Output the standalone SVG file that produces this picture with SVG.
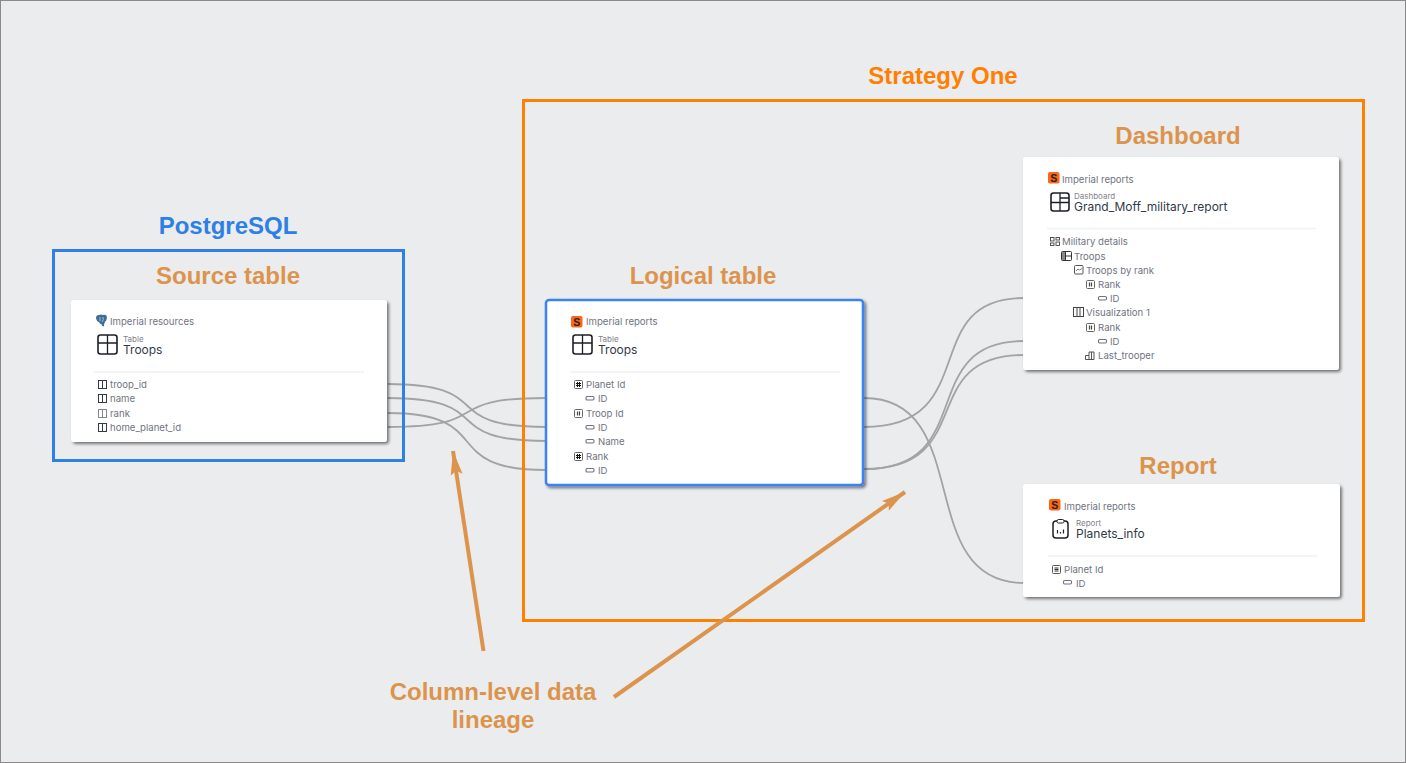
<svg xmlns="http://www.w3.org/2000/svg" width="1406" height="763" viewBox="0 0 1406 763">
<defs>
<filter id="sh" x="-5%" y="-5%" width="112%" height="115%"><feDropShadow dx="2" dy="2" stdDeviation="1.5" flood-color="#000" flood-opacity="0.5"/></filter>
<marker id="ah" markerUnits="userSpaceOnUse" markerWidth="26" markerHeight="16" refX="24" refY="8" orient="auto"><path d="M0 2L4 8L0 14L24 8Z" fill="#dc944c"/></marker>
<g id="tbl"><rect x="1" y="1" width="19" height="19" rx="2.500" fill="#fff" stroke="#1c1f26" stroke-width="1.600"/><path d="M1 9H20M10.500 1V20" stroke="#1c1f26" stroke-width="1.300" fill="none"/></g>
<g id="col"><rect x="0.500" y="0.500" width="8" height="8" fill="#fff" stroke="#333a44"/><path d="M4.500 0.500V8.500" stroke="#333a44"/></g>
<g id="attr"><rect x="0.500" y="0.500" width="8" height="8" rx="1" fill="#fff" stroke="#666"/><path d="M3.500 2V7M5.500 2V7M2 3.500H7M2 5.500H7" stroke="#111" stroke-width="1"/></g>
<g id="attr2"><rect x="0.500" y="0.500" width="8" height="8" rx="1" fill="#fff" stroke="#666"/><path d="M3.500 2.500V6.500M5.500 2.500V6.500" stroke="#444" stroke-width="1.200"/></g>
<g id="form"><rect x="0.500" y="0.500" width="8" height="3.500" rx="1.200" fill="#fff" stroke="#6d7280" stroke-width="1.100"/></g>
<g id="s"><rect width="11.500" height="11.500" rx="2" fill="#ff6512"/><text x="5.700" y="9.500" text-anchor="middle" class="sg">S</text></g>
</defs>
<style>
text{font-family:Inter,"Liberation Sans",sans-serif}
.t{font-size:9.600px;fill:#6f7480}
.n{font-size:12px;fill:#323a4a}
.k{font-size:8px;fill:#7f838c}
.h{font-family:"Liberation Sans",Arial,sans-serif;font-weight:700;font-size:24px;fill:#dc944c;text-anchor:middle}
.sg{font-family:"Liberation Sans",sans-serif;font-weight:700;font-size:10.500px;fill:#222}
.card{fill:#fff;filter:url(#sh)}
.div{stroke:#f0f1f3;stroke-width:1.500}
.c{fill:none;stroke:#a3a3a3;stroke-width:1.800}
</style>
<rect x="0.500" y="0.500" width="1405" height="762" fill="#ebecee" stroke="#8a8a8a"/>

<g id="connectors">
<path class="c" d="M388 384C498 384 436 427 546 427"/>
<path class="c" d="M388 398C498 398 436 441 546 441"/>
<path class="c" d="M388 413C498 413 436 470 546 470"/>
<path class="c" d="M388 427C498 427 436 398 546 398"/>
<path class="c" d="M864 398C976 398 912 583 1024 583"/>
<path class="c" d="M864 427C984 427 916 298 1024 298"/>
<path class="c" d="M864 469C980 469 914 341 1024 341"/>
<path class="c" d="M864 469C980 469 914 355 1024 355"/>
</g>

<g id="strategy-one">
<rect x="523.500" y="100.500" width="840" height="520" fill="none" stroke="#ff8000" stroke-width="3"/>
<text x="943" y="84" class="h" style="fill:#ff8000">Strategy One</text>
</g>
<g id="postgresql">
<rect x="53.500" y="250.500" width="350" height="210" fill="none" stroke="#2f80e4" stroke-width="3"/>
<text x="228" y="234" class="h" style="fill:#2f80e4">PostgreSQL</text>
</g>

<g id="source-table">
<text x="228" y="284" class="h">Source table</text>
<rect class="card" x="71" y="300" width="316" height="142" rx="3"/>
<path d="M96 318q0-3 3-3q2-1 3.500 0q4-1 4.500 2q0 3-2 5q-1 1-1 4q-2 1-2.500-2q-2 0-2-1.500q-3-1-3.500-4.500z" fill="#3e6e96"/>
<path d="M100 317v4M103 317q1 3-1 5" stroke="#cfe0ec" stroke-width="0.700" fill="none"/>
<text x="110" y="325" class="t">Imperial resources</text>
<use href="#tbl" x="97" y="334"/>
<text x="123" y="342" class="k">Table</text>
<text x="123" y="354" class="n">Troops</text>
<path class="div" d="M94 372H364"/>
<use href="#col" x="98" y="380"/><text x="110" y="388" class="t">troop_id</text>
<use href="#col" x="98" y="394"/><text x="110" y="402" class="t">name</text>
<use href="#col" x="98" y="409" opacity="0.6"/><text x="110" y="417" class="t">rank</text>
<use href="#col" x="98" y="423"/><text x="110" y="431" class="t">home_planet_id</text>
</g>

<g id="logical-table">
<text x="703" y="284" class="h">Logical table</text>
<rect x="546" y="300" width="317" height="185" rx="3" fill="#fff" stroke="#3b82f6" stroke-width="2.500" filter="url(#sh)"/>
<use href="#s" x="571" y="316"/>
<text x="586" y="325" class="t">Imperial reports</text>
<use href="#tbl" x="572" y="334"/>
<text x="598" y="342" class="k">Table</text>
<text x="598" y="354" class="n">Troops</text>
<path class="div" d="M570 372H840"/>
<use href="#attr" x="574" y="380"/><text x="586" y="388" class="t">Planet Id</text>
<use href="#form" x="585.500" y="396"/><text x="598" y="402" class="t">ID</text>
<use href="#attr2" x="574" y="409"/><text x="586" y="417" class="t">Troop Id</text>
<use href="#form" x="585.500" y="425"/><text x="598" y="431" class="t">ID</text>
<use href="#form" x="585.500" y="439"/><text x="598" y="445" class="t">Name</text>
<use href="#attr" x="574" y="452"/><text x="586" y="460" class="t">Rank</text>
<use href="#form" x="585.500" y="468"/><text x="598" y="474" class="t">ID</text>
</g>

<g id="dashboard">
<text x="1178" y="144" class="h">Dashboard</text>
<rect class="card" x="1023" y="157" width="316" height="213" rx="3"/>
<use href="#s" x="1048" y="172"/>
<text x="1062" y="183" class="t">Imperial reports</text>
<g transform="translate(1050,192)"><rect x="1" y="1" width="18" height="18" rx="2.500" fill="#fff" stroke="#1c1f26" stroke-width="1.600"/><path d="M1 10.500H19M10 1V19M10 6H19" stroke="#1c1f26" stroke-width="1.300" fill="none"/></g>
<text x="1074" y="199" class="k">Dashboard</text>
<text x="1074" y="211" class="n">Grand_Moff_military_report</text>
<path class="div" d="M1047 228.500H1316"/>
<g fill="none" stroke="#444" stroke-width="0.900"><rect x="1050.500" y="237.500" width="3.500" height="3.500"/><rect x="1056" y="237.500" width="3.500" height="2.500"/><rect x="1050.500" y="243" width="3.500" height="2.500"/><rect x="1056" y="242" width="3.500" height="3.500"/></g>
<text x="1062" y="245" class="t">Military details</text>
<g transform="translate(1061,251)"><rect x="0.500" y="0.500" width="10" height="9" rx="1" fill="#fff" stroke="#333"/><rect x="1" y="1" width="3.500" height="8" fill="#888"/><path d="M4.500 0.500V9.500M4.500 5H10.500" stroke="#333"/></g>
<text x="1074" y="260" class="t">Troops</text>
<g transform="translate(1074,265)"><rect x="0.500" y="0.500" width="8.500" height="8.500" rx="1" fill="#fff" stroke="#555"/><path d="M2 6L4 4L5.500 5L8 3.500" stroke="#555" fill="none" stroke-width="0.800"/></g>
<text x="1086" y="274" class="t">Troops by rank</text>
<use href="#attr2" x="1086" y="280"/><text x="1098" y="288" class="t">Rank</text>
<use href="#form" x="1098" y="296"/><text x="1110" y="302" class="t">ID</text>
<g transform="translate(1073,307)"><rect x="0.500" y="0.500" width="10" height="9" fill="#fff" stroke="#444"/><path d="M4 0.500V9.500M7 0.500V9.500" stroke="#444"/></g>
<text x="1086" y="316" class="t">Visualization 1</text>
<use href="#attr2" x="1086" y="323"/><text x="1098" y="331" class="t">Rank</text>
<use href="#form" x="1098" y="339"/><text x="1110" y="345" class="t">ID</text>
<path d="M1085.500 359.500V355.500H1089V352H1094V359.500ZM1089 355.500V359.500M1091.500 352V359.500" fill="none" stroke="#444" stroke-width="0.900"/>
<text x="1098" y="359" class="t">Last_trooper</text>
</g>

<g id="report">
<text x="1178" y="474" class="h">Report</text>
<rect class="card" x="1023" y="484" width="317" height="113" rx="3"/>
<use href="#s" x="1049" y="499"/>
<text x="1064" y="510" class="t">Imperial reports</text>
<g transform="translate(1052,519)"><rect x="1" y="2" width="15" height="17" rx="3" fill="#fff" stroke="#1c1f26" stroke-width="1.500"/><rect x="5" y="0.500" width="7" height="3.500" rx="1.500" fill="#fff" stroke="#1c1f26"/><path d="M5.500 14.500V11M8.500 14.500V13M11.500 14.500V10.500" stroke="#1c1f26" stroke-width="1.200"/></g>
<text x="1076" y="526" class="k">Report</text>
<text x="1076" y="538" class="n">Planets_info</text>
<path class="div" d="M1048 556H1317"/>
<g transform="translate(1052,565)"><rect x="0.500" y="0.500" width="8" height="8" rx="1" fill="#fff" stroke="#555"/><path d="M2.500 3H6.500M2.500 4.500H6.500M2.500 6H6.500" stroke="#333"/></g>
<text x="1064" y="573" class="t">Planet Id</text>
<use href="#form" x="1063" y="580"/><text x="1076" y="587" class="t">ID</text>
</g>

<g id="annotation">
<text x="493" y="700" class="h">Column-level data</text>
<text x="493" y="728" class="h">lineage</text>
<path d="M483.500 651L453 451" stroke="#dc944c" stroke-width="4" fill="none" marker-end="url(#ah)"/>
<path d="M614 697L905 492" stroke="#dc944c" stroke-width="4" fill="none" marker-end="url(#ah)"/>
</g>
</svg>
